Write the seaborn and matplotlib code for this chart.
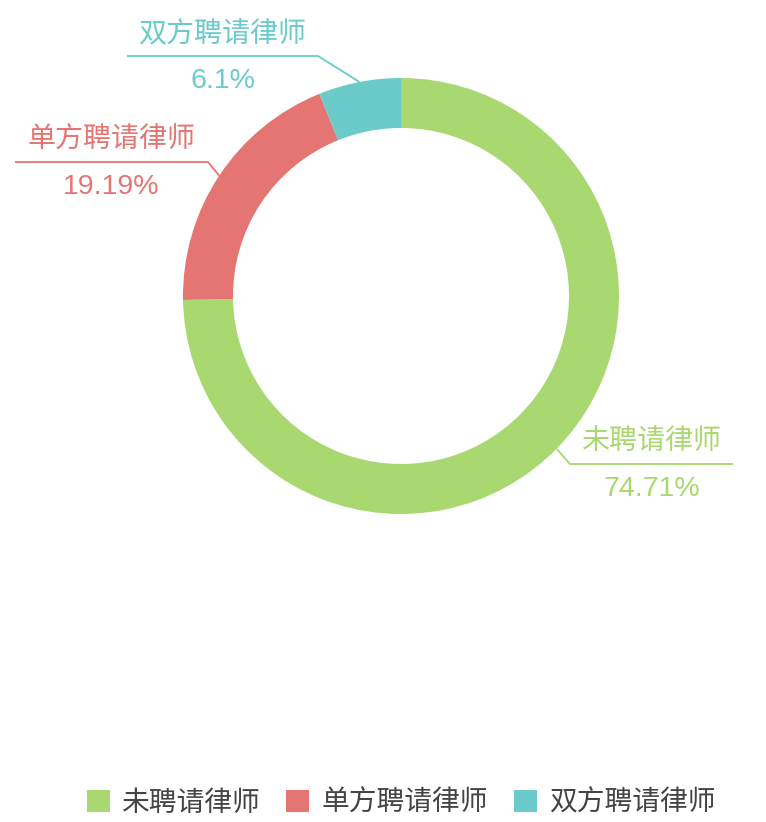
import numpy as np
import matplotlib
matplotlib.use("Agg")
import matplotlib.pyplot as plt
import seaborn as sns

# data
categories = ["未聘请律师", "单方聘请律师", "双方聘请律师"]
shares = [74.71, 19.19, 6.1]
pct_labels = ["74.71%", "19.19%", "6.1%"]
colors = ["#a8d86f", "#e57573", "#6acbca"]

sns.set_theme(style="white")
plt.rcParams["font.family"] = ["Noto Sans CJK SC", "DejaVu Sans"]

W, H = 766, 822
fig = plt.figure(figsize=(W / 100, H / 100), dpi=100)
ax = fig.add_axes([0, 0, 1, 1])

def py(y):
    # pixel row (top-down) -> data y
    return H - y

cx, cy = 401, 296
R, ring = 218, 50

wedges, _ = ax.pie(shares, colors=colors, startangle=90, counterclock=False,
                   radius=R, center=(cx, py(cy)),
                   wedgeprops=dict(width=ring, linewidth=0))

# label layout: elbow point and far end of horizontal leader
layout = [
    dict(elbow=(570, 464), end=733),
    dict(elbow=(208, 162), end=15),
    dict(elbow=(318, 56), end=127),
]

for w, lab, pct, col, lay in zip(wedges, categories, pct_labels, colors, layout):
    mid = np.deg2rad((w.theta1 + w.theta2) / 2)
    sx = cx + R * np.cos(mid)
    sy = py(cy) + R * np.sin(mid)
    ex, ey = lay["elbow"]
    ax.plot([sx, ex, lay["end"]], [sy, py(ey), py(ey)], color=col, lw=1.3,
            solid_capstyle="butt")
    tx = (ex + lay["end"]) / 2
    ax.text(tx, py(ey - 23), lab, color=col, fontsize=20.2, ha="center", va="center")
    ax.text(tx, py(ey + 25), pct, color=col, fontsize=20.5, ha="center", va="center",
            family=["Liberation Sans", "DejaVu Sans"])

ax.set_xlim(0, W)
ax.set_ylim(0, H)
ax.set_aspect("equal")
ax.axis("off")

leg = ax.legend(wedges, categories, loc="center", bbox_to_anchor=(401 / W, 1 - 803 / H),
                ncol=3, frameon=False, fontsize=20, handlelength=0.83, handleheight=0.83,
                handletextpad=0.43, columnspacing=0.94, labelcolor="#444444")

fig.savefig("out.png", dpi=100, facecolor="white")
